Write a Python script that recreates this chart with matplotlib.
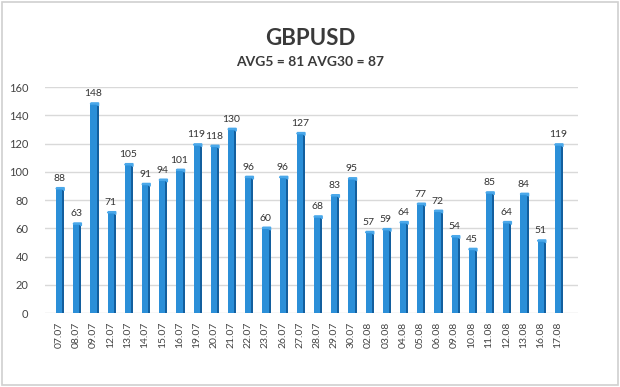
import matplotlib
matplotlib.use("Agg")
import matplotlib.pyplot as plt
from matplotlib.patches import Rectangle, Polygon

dates = ["07.07", "08.07", "09.07", "12.07", "13.07", "14.07", "15.07", "16.07",
         "19.07", "20.07", "21.07", "22.07", "23.07", "26.07", "27.07", "28.07",
         "29.07", "30.07", "02.08", "03.08", "04.08", "05.08", "06.08", "09.08",
         "10.08", "11.08", "12.08", "13.08", "16.08", "17.08"]
values = [88, 63, 148, 71, 105, 91, 94, 101, 119, 118, 130, 96, 60, 96, 127,
          68, 83, 95, 57, 59, 64, 77, 72, 54, 45, 85, 64, 84, 51, 119]
title = "GBPUSD"
subtitle = "AVG5 = 81 AVG30 = 87"
yticks = [0, 20, 40, 60, 80, 100, 120, 140, 160]

plt.rcParams['font.family'] = ['Lato', 'DejaVu Sans']

fig = plt.figure(figsize=(6.2, 3.87), dpi=100)
fig.patch.set_facecolor("white")
fig.add_artist(Rectangle((0.003, 0.004), 0.994, 0.992, transform=fig.transFigure,
                         fill=False, edgecolor="#d0d0d0", linewidth=1.2))

ax = fig.add_axes([0.073, 0.191, 0.86, 0.584])
x = list(range(len(values)))
w = 0.36
side = 0.12
ax.bar(x, values, width=w, color="#2b8fd8", edgecolor="none", zorder=3, align="center")
ax.bar([i + w / 2 + side / 2 for i in x], values, width=side, color="#135f9e",
       edgecolor="none", zorder=3)
for i, v in zip(x, values):
    ax.add_patch(Polygon([(i - w / 2, v), (i + w / 2, v), (i + w / 2 + side, v - 1.2),
                          (i + w / 2 + side, v + 0.8), (i - w / 2 + 0.05, v + 0.8)],
                         closed=True, color="#4aa8ea", zorder=4))
    ax.text(i, v + 4, str(v), ha="center", va="bottom", fontsize=7.5, color="#333333")

ax.set_ylim(0, 160)
ax.set_xlim(-0.8, 30.2)
ax.set_yticks(yticks)
ax.set_xticks(x)
ax.set_xticklabels(dates, rotation=90, fontsize=7.5, color="#444444")
ax.tick_params(axis="y", labelsize=8, colors="#444444", length=0, pad=12)
ax.tick_params(axis="x", length=0, pad=6)
ax.grid(axis="y", color="#d9d9d9", linewidth=1.0, zorder=0)
for s in ax.spines.values():
    s.set_visible(False)

fig.text(0.5, 0.90, title, ha="center", va="center", fontsize=16, fontweight="bold",
         color="#3a3a3a")
fig.text(0.5, 0.84, subtitle, ha="center", va="center", fontsize=10, fontweight="bold",
         color="#3a3a3a")

fig.savefig("out.png", dpi=100)
